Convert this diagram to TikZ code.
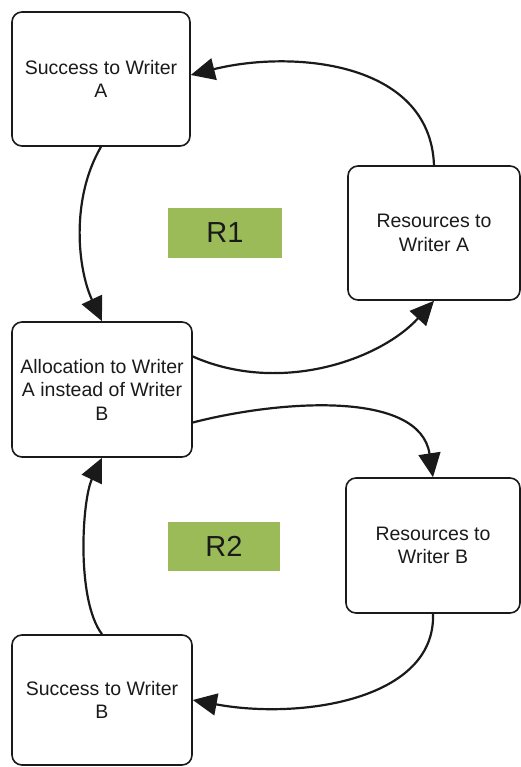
\documentclass[tikz,border=0pt]{standalone}
\usepackage{fontspec}
\setmainfont{Liberation Sans}
\usetikzlibrary{arrows.meta}
\definecolor{loopgreen}{HTML}{9BBB59}
\definecolor{ink}{HTML}{1A1A1A}
\begin{document}
\begin{tikzpicture}[x=1pt,y=-1pt,
  box/.style={draw=ink, line width=1.6pt, rounded corners=10pt, align=center,
    inner sep=0pt, text=ink, font=\fontsize{19.5}{23.5}\selectfont},
  looplabel/.style={fill=loopgreen, inner sep=0pt, text=ink,
    font=\fontsize{29}{34}\selectfont},
  link/.style={draw=ink, line width=2.2pt, -{Triangle[length=24pt,width=22pt]}}]
\useasboundingbox (0,0) rectangle (521,767);

% variables
\node[box, minimum width=178pt, minimum height=134pt] (sa) at (101,79) {Success to Writer\\A};
\node[box, minimum width=172pt, minimum height=134pt] (ra) at (434,233) {Resources to\\Writer A};
\node[box, minimum width=180pt, minimum height=135pt] (alloc) at (102,389.5) {Allocation to Writer\\A instead of Writer\\B};
\node[box, minimum width=174pt, minimum height=135pt] (rb) at (433,545.5) {Resources to\\Writer B};
\node[box, minimum width=180pt, minimum height=130pt] (sb) at (102,700) {Success to Writer\\B};

% loop labels
\node[looplabel, minimum width=114pt, minimum height=50pt] (r1) at (225,233) {R1};
\node[looplabel, minimum width=112pt, minimum height=49pt] (r2) at (224,546.5) {R2};

% causal links
\draw[link] (sa.south) .. controls (70,200) and (78,270) .. (alloc.north);
\draw[link] (ra.north) .. controls (430,60) and (290,50) .. ([yshift=4pt]sa.east);
\draw[link] ([yshift=33pt]alloc.east) .. controls (280,395) and (380,360) .. (ra.south);
\draw[link] ([yshift=-33pt]alloc.east) .. controls (280,400) and (420,390) .. (rb.north);
\draw[link] (rb.south) .. controls (436,700) and (300,720) .. (sb.east);
\draw[link] (sb.north) .. controls (76,600) and (82,500) .. (alloc.south);
\end{tikzpicture}
\end{document}
